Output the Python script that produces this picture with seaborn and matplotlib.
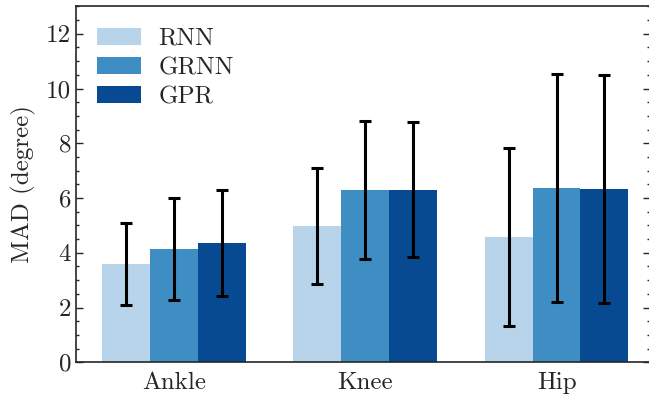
import matplotlib
matplotlib.use('Agg')
import matplotlib.pyplot as plt
import pandas as pd
import seaborn as sns
from matplotlib.ticker import MultipleLocator

# Data
joints = ['Ankle', 'Knee', 'Hip']
models = ['RNN', 'GRNN', 'GPR']
rnn_mean = [3.59, 4.98, 4.57]
rnn_err = [1.49, 2.13, 3.25]
grnn_mean = [4.14, 6.30, 6.37]
grnn_err = [1.85, 2.51, 4.17]
gpr_mean = [4.36, 6.31, 6.33]
gpr_err = [1.94, 2.47, 4.17]

colors = ['#b7d4ea', '#3e8ec4', '#084a91']

df = pd.DataFrame({
    'joint': joints * 3,
    'model': [m for m in models for _ in joints],
    'mad': rnn_mean + grnn_mean + gpr_mean,
})
errs = [rnn_err, grnn_err, gpr_err]

sns.set_style('ticks')
plt.rcParams['font.family'] = ['cmr10', 'DejaVu Serif']
plt.rcParams['mathtext.fontset'] = 'cm'
plt.rcParams['axes.unicode_minus'] = False

fig = plt.figure(figsize=(6.49, 3.99), dpi=100)
ax = fig.add_axes([0.117, 0.092, 0.885, 0.892])

sns.barplot(data=df, x='joint', y='mad', hue='model', hue_order=models,
            palette=colors, width=0.75, errorbar=None, saturation=1,
            linewidth=0, ax=ax)

# Error bars at the bar centres
for container, err in zip(ax.containers, errs):
    xs = [p.get_x() + p.get_width() / 2 for p in container.patches]
    ys = [p.get_height() for p in container.patches]
    ax.errorbar(xs, ys, yerr=err, fmt='none', ecolor='black',
                elinewidth=2.2, capsize=4, capthick=2.2)

ax.set_ylim(0, 13)
ax.set_xlim(-0.512, 2.49)
ax.yaxis.set_major_locator(MultipleLocator(2))
ax.yaxis.set_minor_locator(MultipleLocator(0.5))
ax.tick_params(axis='y', which='both', direction='in', right=True, labelsize=18)
ax.tick_params(axis='y', which='major', length=5, width=1)
ax.tick_params(axis='y', which='minor', length=2.5, width=1)
ax.tick_params(axis='x', length=0, labelsize=18, pad=7)
for s in ax.spines.values():
    s.set_linewidth(1.2)
ax.spines['right'].set_visible(False)

ax.set_xlabel('')
ax.set_ylabel('MAD (degree)', fontsize=18, labelpad=7)

ax.legend(loc='upper left', frameon=False, fontsize=18,
          handlelength=1.75, handleheight=0.68, labelspacing=0.27,
          handletextpad=0.7, borderaxespad=0.45)

fig.savefig('out.png', dpi=100)
